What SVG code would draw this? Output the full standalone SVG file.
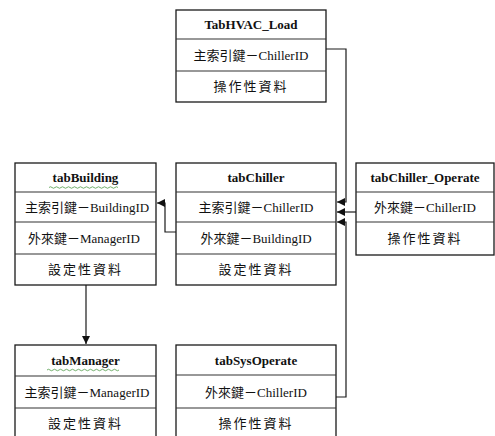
<svg xmlns="http://www.w3.org/2000/svg" width="495" height="436" viewBox="0 0 495 436">
<style>
.box{fill:#fff;stroke:#1a1a1a;stroke-width:1.3}
.div{stroke:#333;stroke-width:1.1}
.t{font-family:"Liberation Serif","Noto Serif CJK TC","Noto Sans CJK TC",serif;font-weight:bold;font-size:13px;text-anchor:middle;fill:#111}
.r{font-family:"Liberation Serif","Noto Sans CJK TC",serif;font-size:13px;text-anchor:middle;fill:#111}
.c{fill:none;stroke:#1a1a1a;stroke-width:1.2}
.w{fill:none;stroke:#4f9a48;stroke-width:0.8}
</style>
<defs>
<marker id="ah" viewBox="0 0 10 10" refX="10" refY="5" markerWidth="8" markerHeight="8" markerUnits="userSpaceOnUse" orient="auto">
<path d="M0,0 L10,5 L0,10 z" fill="#111"/>
</marker>
</defs>
<rect width="495" height="436" fill="#fff"/>

<g id="connectors">
<polyline class="c" points="326,49 346,49 346,202 337,202" marker-end="url(#ah)"/>
<polyline class="c" points="356,212 337,212" marker-end="url(#ah)"/>
<polyline class="c" points="336,397 346,397 346,222 337,222" marker-end="url(#ah)"/>
<polyline class="c" points="176,232 165,232 165,203 157,203" marker-end="url(#ah)"/>
<polyline class="c" points="86,285 86,344" marker-end="url(#ah)"/>
</g>

<g id="TabHVAC_Load">
<rect class="box" x="176" y="10" width="150" height="92"/>
<line class="div" x1="176" y1="39" x2="326" y2="39"/>
<line class="div" x1="176" y1="71" x2="326" y2="71"/>
<text class="t" x="251" y="29">TabHVAC_Load</text>
<text class="r" x="251" y="60">主索引鍵－ChillerID</text>
<text class="r" x="251" y="91" letter-spacing="2">操作性資料</text>
</g>

<g id="tabBuilding">
<rect class="box" x="15" y="163" width="141" height="122"/>
<line class="div" x1="15" y1="192" x2="156" y2="192"/>
<line class="div" x1="15" y1="222" x2="156" y2="222"/>
<line class="div" x1="15" y1="254" x2="156" y2="254"/>
<text class="t" x="85.5" y="182">tabBuilding</text>
<path class="w" d="M49,187.5 q1.5,-1.5 3,0 t3,0 t3,0 t3,0 t3,0 t3,0 t3,0 t3,0 t3,0 t3,0 t3,0 t3,0 t3,0 t3,0 t3,0 t3,0 t3,0 t3,0 t3,0 t3,0 t3,0 t3,0 t3,0"/>
<text class="r" x="87" y="212">主索引鍵－BuildingID</text>
<text class="r" x="84" y="243">外來鍵－ManagerID</text>
<text class="r" x="85.5" y="274" letter-spacing="2">設定性資料</text>
</g>

<g id="tabChiller">
<rect class="box" x="176" y="163" width="160" height="122"/>
<line class="div" x1="176" y1="192" x2="336" y2="192"/>
<line class="div" x1="176" y1="222" x2="336" y2="222"/>
<line class="div" x1="176" y1="254" x2="336" y2="254"/>
<text class="t" x="256" y="182">tabChiller</text>
<text class="r" x="256" y="212">主索引鍵－ChillerID</text>
<text class="r" x="256" y="243">外來鍵－BuildingID</text>
<text class="r" x="256" y="274" letter-spacing="2">設定性資料</text>
</g>

<g id="tabChiller_Operate">
<rect class="box" x="356" y="163" width="138" height="92"/>
<line class="div" x1="356" y1="192" x2="494" y2="192"/>
<line class="div" x1="356" y1="222" x2="494" y2="222"/>
<text class="t" x="425" y="182">tabChiller_Operate</text>
<text class="r" x="425" y="212">外來鍵－ChillerID</text>
<text class="r" x="425" y="243" letter-spacing="2">操作性資料</text>
</g>

<g id="tabManager">
<rect class="box" x="15" y="345" width="141" height="96"/>
<line class="div" x1="15" y1="376" x2="156" y2="376"/>
<line class="div" x1="15" y1="408" x2="156" y2="408"/>
<text class="t" x="85.5" y="365">tabManager</text>
<path class="w" d="M47,370 q1.5,-1.5 3,0 t3,0 t3,0 t3,0 t3,0 t3,0 t3,0 t3,0 t3,0 t3,0 t3,0 t3,0 t3,0 t3,0 t3,0 t3,0 t3,0 t3,0 t3,0 t3,0 t3,0 t3,0 t3,0 t3,0"/>
<text class="r" x="87" y="397">主索引鍵－ManagerID</text>
<text class="r" x="85.5" y="428" letter-spacing="2">設定性資料</text>
</g>

<g id="tabSysOperate">
<rect class="box" x="176" y="345" width="160" height="96"/>
<line class="div" x1="176" y1="375" x2="336" y2="375"/>
<line class="div" x1="176" y1="408" x2="336" y2="408"/>
<text class="t" x="256" y="365">tabSysOperate</text>
<text class="r" x="256" y="397">外來鍵－ChillerID</text>
<text class="r" x="256" y="428" letter-spacing="2">操作性資料</text>
</g>
</svg>
